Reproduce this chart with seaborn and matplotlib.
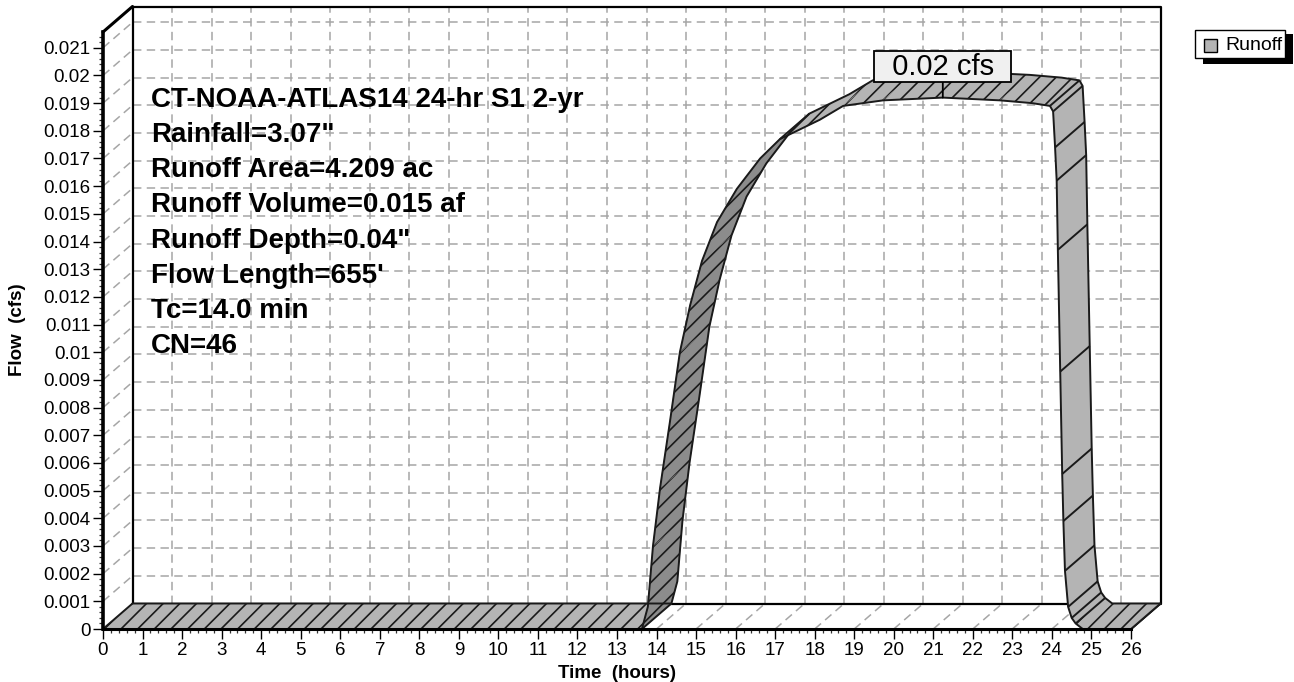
import numpy as np
import pandas as pd
import seaborn as sns
import matplotlib
matplotlib.use("Agg")
import matplotlib.pyplot as plt
from matplotlib.patches import Rectangle
from matplotlib.collections import LineCollection
from matplotlib.ticker import MultipleLocator

# ---------------- data ----------------
hours = [0.0, 13.63, 13.78, 13.91, 14.09, 14.34, 14.59, 14.85, 15.15, 15.53,
         16.03, 16.62, 17.12, 18.13, 18.72, 19.73, 21.24, 22.69, 23.50, 23.95,
         24.03, 24.08, 24.12, 24.15, 24.21, 24.26, 24.29, 24.33, 24.41, 24.50,
         24.60, 24.78, 26.0]
flow_cfs = [0.0, 0.0, 0.0008, 0.0030, 0.0051, 0.0075, 0.0100, 0.0117, 0.0133, 0.0147,
            0.0159, 0.0170, 0.0177, 0.0184, 0.0189, 0.0191, 0.0192, 0.0191, 0.0190, 0.0189,
            0.0187, 0.0174, 0.0162, 0.0137, 0.0093, 0.0056, 0.0039, 0.0021, 0.0008, 0.0004,
            0.0002, 0.0, 0.0]
x_ticks = [0, 1, 2, 3, 4, 5, 6, 7, 8, 9, 10, 11, 12, 13, 14, 15, 16, 17, 18, 19,
           20, 21, 22, 23, 24, 25, 26]
x_tick_labels = [str(v) for v in x_ticks]
y_ticks = [0.0, 0.001, 0.002, 0.003, 0.004, 0.005, 0.006, 0.007, 0.008, 0.009, 0.010,
           0.011, 0.012, 0.013, 0.014, 0.015, 0.016, 0.017, 0.018, 0.019, 0.020, 0.021]
y_tick_labels = ['0', '0.001', '0.002', '0.003', '0.004', '0.005', '0.006', '0.007',
                 '0.008', '0.009', '0.01', '0.011', '0.012', '0.013', '0.014', '0.015',
                 '0.016', '0.017', '0.018', '0.019', '0.02', '0.021']
series_name = 'Runoff'
peak_hour = 21.24
peak_flow = 0.0192
peak_label = '0.02 cfs'
info_lines = ['CT-NOAA-ATLAS14 24-hr S1 2-yr',
              'Rainfall=3.07"',
              'Runoff Area=4.209 ac',
              'Runoff Volume=0.015 af',
              'Runoff Depth=0.04"',
              "Flow Length=655'",
              'Tc=14.0 min',
              'CN=46']
x_label = 'Time  (hours)'
y_label = 'Flow  (cfs)'

# ---------------- layout / style ----------------
W, H, DPI = 1294, 682, 100
X0, X1 = 103, 1131        # pixel x of 0 h and 26 h (front plane)
Y0, YT = 629, 32          # pixel y of 0 cfs and top of front axis
X_MAX = 26
Y_MAX = 0.02157
DXP, DYP = 29.5, 25.5     # depth offset in pixels
LIGHT = '#b4b4b4'
DARK = '#8c8c8c'
OUTLINE = '#1a1a1a'
GRID = '#a6a6a6'
DASH = (0, (5.5, 3.5))

sns.set_theme(style='ticks')
plt.rcParams['font.family'] = ['Liberation Sans', 'DejaVu Sans']
plt.rcParams['hatch.linewidth'] = 1.2
plt.rcParams['text.color'] = 'black'
plt.rcParams['axes.labelcolor'] = 'black'
plt.rcParams['xtick.color'] = 'black'
plt.rcParams['ytick.color'] = 'black'

fig = plt.figure(figsize=(W / DPI, H / DPI), dpi=DPI)
fig.patch.set_facecolor('white')
ax = fig.add_axes([X0 / W, 1 - Y0 / H, (X1 - X0) / W, (Y0 - YT) / H])
ax.set_xlim(0, X_MAX)
ax.set_ylim(0, Y_MAX)
ax.set_facecolor('white')

dx = DXP * X_MAX / (X1 - X0)
dy = DYP * Y_MAX / (Y0 - YT)

# ---------------- back plane & grids ----------------
ax.hlines([v + dy for v in y_ticks[1:]], dx, X_MAX + dx, colors=GRID,
          linestyles=[DASH], linewidth=1.1, zorder=1, clip_on=False)
ax.vlines([v + dx for v in x_ticks[1:-1]], dy, Y_MAX + dy, colors=GRID,
          linestyles=[DASH], linewidth=1.1, zorder=1, clip_on=False)
wall = [[(0, v), (dx, v + dy)] for v in y_ticks[1:]]
floor = [[(v, 0), (v + dx, dy)] for v in x_ticks[1:-1]]
ax.add_collection(LineCollection(wall + floor, colors=GRID, linestyles=[DASH],
                                 linewidths=1.1, zorder=1, clip_on=False))
frame_kw = dict(color='black', lw=1.6, zorder=2, clip_on=False, solid_capstyle='projecting')
ax.plot([dx, dx, X_MAX + dx, X_MAX + dx, dx], [dy, Y_MAX + dy, Y_MAX + dy, dy, dy], **frame_kw)
ax.plot([0, dx], [Y_MAX, Y_MAX + dy], color='black', lw=2.2, zorder=2, clip_on=False)
ax.plot([X_MAX, X_MAX + dx], [0, dy], color='black', lw=1.6, zorder=2, clip_on=False)

# ---------------- 3-D ribbon ----------------
t = np.array(hours)
q = np.array(flow_cfs)
n = len(t)
kinds = []
for i in range(n - 1):
    dt_ = t[i + 1] - t[i]
    dq_ = q[i + 1] - q[i]
    if dq_ * dx > dt_ * dy:
        kinds.append('rise')
    elif -dq_ * dx > dt_ * dy:
        kinds.append('fall')
    else:
        kinds.append('flat')

for i, k in enumerate(kinds):
    xs = [t[i], t[i + 1], t[i + 1] + dx, t[i] + dx]
    ys = [q[i], q[i + 1], q[i + 1] + dy, q[i] + dy]
    face = DARK if k == 'rise' else LIGHT
    z = 3 + i * 0.01
    ax.fill(xs, ys, facecolor=face, edgecolor=face, lw=0.6, zorder=z, clip_on=False)
    if k != 'fall':
        ax.fill(xs, ys, facecolor='none', edgecolor=OUTLINE, hatch='//', lw=0,
                zorder=z + 0.005, clip_on=False)

df = pd.DataFrame({'hours': t, 'flow': q, 'hours_back': t + dx, 'flow_back': q + dy})
sns.lineplot(data=df, x='hours', y='flow', ax=ax, color=OUTLINE, lw=1.4, sort=False,
             estimator=None, zorder=4, clip_on=False)
sns.lineplot(data=df, x='hours_back', y='flow_back', ax=ax, color=OUTLINE, lw=1.4,
             sort=False, estimator=None, zorder=4, clip_on=False)

depth_idx = [0, n - 1]
for i in range(1, n - 1):
    if kinds[i - 1] != kinds[i] or kinds[i - 1] == 'fall':
        depth_idx.append(i)
depth_segs = [[(t[i], q[i]), (t[i] + dx, q[i] + dy)] for i in depth_idx]
ax.add_collection(LineCollection(depth_segs, colors=OUTLINE, linewidths=1.4,
                                 zorder=4, clip_on=False))

# ---------------- peak label ----------------
ax.annotate('  ' + peak_label + '  ', xy=(peak_hour, peak_flow), xytext=(0, 31),
            textcoords='offset pixels', ha='center', va='center', fontsize=21,
            color='black', zorder=7, annotation_clip=False,
            bbox=dict(boxstyle='square,pad=0.04', fc='#f0f0f0', ec='black', lw=1.3),
            arrowprops=dict(arrowstyle='-', color='black', lw=1.3, shrinkA=0, shrinkB=0))

# ---------------- axes, ticks ----------------
for s in ['top', 'right']:
    ax.spines[s].set_visible(False)
ax.spines['left'].set_linewidth(2.6)
ax.spines['bottom'].set_linewidth(2.2)
for s in ['left', 'bottom']:
    ax.spines[s].set_color('black')
    ax.spines[s].set_zorder(6)
ax.set_xticks(x_ticks, labels=x_tick_labels)
ax.set_yticks(y_ticks, labels=y_tick_labels)
ax.xaxis.set_minor_locator(MultipleLocator(0.2))
ax.yaxis.set_minor_locator(MultipleLocator(0.0002))
ax.tick_params(which='major', direction='out', length=7, width=1.0, color='black',
               labelsize=13.5, labelcolor='black', left=True, bottom=True)
ax.tick_params(axis='x', which='major', pad=2.5)
ax.tick_params(axis='y', which='major', pad=2)
ax.tick_params(which='minor', direction='out', length=3.2, width=0.9, color='#333333',
               left=True, bottom=True)
ax.set_xlabel('')
ax.set_ylabel('')

fig.text(18 / W, 1 - 330 / H, y_label, rotation=90, fontsize=13.5, fontweight='bold',
         ha='center', va='center', color='black')
fig.text(617 / W, 1 - 673 / H, x_label, fontsize=13.5, fontweight='bold',
         ha='center', va='center', color='black')

# ---------------- info text ----------------
for k, line in enumerate(info_lines):
    fig.text(150.7 / W, 1 - (106.7 + 35.2 * k) / H, line, fontsize=20, color='black',
             fontweight='bold', ha='left', va='baseline', zorder=8)

# ---------------- legend ----------------
def frect(x0, y0, x1, y1, **kw):
    fig.add_artist(Rectangle((x0 / W, 1 - y1 / H), (x1 - x0) / W, (y1 - y0) / H,
                             transform=fig.transFigure, **kw))

frect(1203, 34, 1293, 63.5, facecolor='black', edgecolor='none', zorder=9)
frect(1195, 30, 1285, 58, facecolor='white', edgecolor='black', lw=1.0, zorder=10)
frect(1204, 38.5, 1217, 51.5, facecolor=LIGHT, edgecolor='black', lw=1.0, zorder=11)
fig.text(1225 / W, 1 - 45 / H, series_name, fontsize=14, ha='left', va='center',
         color='black', zorder=11)

fig.savefig('out.png', dpi=DPI, facecolor='white')
